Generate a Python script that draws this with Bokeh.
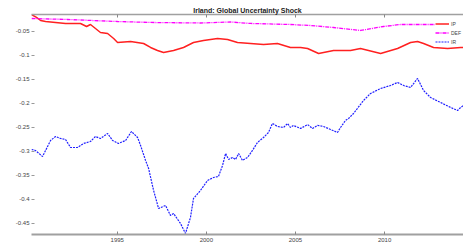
from bokeh.plotting import figure
from bokeh.models import Range1d, FixedTicker, Legend, LegendItem, CustomJSTickFormatter, LinearAxis
from bokeh.embed import file_html
from bokeh.resources import INLINE

title_text = "Irland: Global Uncertainty Shock"
x_ticks = [1995, 2000, 2005, 2010]
y_ticks = [-0.45, -0.4, -0.35, -0.3, -0.25, -0.2, -0.15, -0.1, -0.05]
x_lo, x_hi = 1990.19, 2014.43
y_lo, y_hi = -0.473, -0.0146

ip_t = [1990.19, 1990.47, 1990.70, 1990.98, 1991.54, 1992.10, 1992.94, 1993.28, 1993.50, 1994.06,
        1994.46, 1994.80, 1995.02, 1995.75, 1996.48, 1996.87, 1997.26, 1997.60, 1998.16, 1998.72,
        1999.28, 1999.84, 2000.63, 2001.19, 2001.75, 2002.48, 2003.21, 2003.99, 2004.72, 2005.29,
        2005.68, 2006.30, 2007.14, 2008.09, 2008.65, 2009.78, 2010.73, 2011.46, 2011.85, 2012.19,
        2012.75, 2013.54, 2014.27, 2014.43]
ip_v = [-0.0146, -0.0208, -0.0271, -0.0292, -0.0312, -0.0333, -0.0333, -0.0396, -0.0354, -0.0521,
        -0.0542, -0.0646, -0.0729, -0.0708, -0.0750, -0.0833, -0.0896, -0.0938, -0.0896, -0.0833,
        -0.0729, -0.0688, -0.0646, -0.0667, -0.0729, -0.0750, -0.0771, -0.0750, -0.0833, -0.0833,
        -0.0854, -0.0958, -0.0896, -0.0896, -0.0854, -0.0958, -0.0854, -0.0729, -0.0708, -0.0750,
        -0.0833, -0.0854, -0.0833, -0.0833]

def_t = [1990.19, 1992.21, 1995.02, 1996.87, 1999.67, 2001.36, 2002.48, 2004.72, 2005.85, 2007.14,
         2008.65, 2009.94, 2010.90, 2012.75, 2014.43]
def_v = [-0.0229, -0.0250, -0.0292, -0.0312, -0.0323, -0.0302, -0.0333, -0.0354, -0.0375, -0.0417,
         -0.0479, -0.0396, -0.0354, -0.0354, -0.0354]

ir_t = [1990.19, 1990.41, 1990.81, 1990.98, 1991.26, 1991.54, 1991.82, 1992.10, 1992.38, 1992.77,
        1993.11, 1993.50, 1993.78, 1994.06, 1994.46, 1994.74, 1995.07, 1995.47, 1995.80, 1996.14,
        1996.31, 1996.59, 1996.76, 1997.04, 1997.15, 1997.32, 1997.71, 1997.99, 1998.16, 1998.55,
        1998.83, 1999.11, 1999.28, 1999.67, 2000.07, 2000.40, 2000.68, 2000.91, 2001.08, 2001.25,
        2001.47, 2001.64, 2001.81, 2002.03, 2002.31, 2002.59, 2002.87, 2003.21, 2003.49, 2003.71,
        2003.99, 2004.33, 2004.56, 2004.72, 2004.89, 2005.29, 2005.68, 2005.96, 2006.24, 2006.58,
        2006.97, 2007.36, 2007.53, 2007.81, 2007.98, 2008.26, 2008.82, 2009.21, 2009.78, 2010.34,
        2010.73, 2011.07, 2011.46, 2011.85, 2012.19, 2012.58, 2013.14, 2013.71, 2014.10, 2014.27,
        2014.43]
ir_v = [-0.2958, -0.2979, -0.3104, -0.2979, -0.2771, -0.2688, -0.2729, -0.2750, -0.2917, -0.2917,
        -0.2833, -0.2792, -0.2688, -0.2729, -0.2625, -0.2771, -0.2833, -0.2771, -0.2583, -0.2708,
        -0.2875, -0.3187, -0.3354, -0.3812, -0.3958, -0.4188, -0.4125, -0.4333, -0.4292, -0.4500,
        -0.4708, -0.4375, -0.3979, -0.3812, -0.3604, -0.3542, -0.3521, -0.3292, -0.3042, -0.3167,
        -0.3125, -0.3167, -0.3042, -0.3187, -0.3125, -0.2979, -0.2812, -0.2708, -0.2604, -0.2417,
        -0.2479, -0.2500, -0.2417, -0.2500, -0.2458, -0.2521, -0.2438, -0.2521, -0.2458, -0.2479,
        -0.2542, -0.2604, -0.2500, -0.2354, -0.2312, -0.2208, -0.1938, -0.1792, -0.1688, -0.1625,
        -0.1562, -0.1625, -0.1667, -0.1479, -0.1729, -0.1875, -0.1979, -0.2083, -0.2146, -0.2083,
        -0.2042]

FONT = "Liberation Sans"
AX = "#a0a0a0"

p = figure(width=463, height=248, output_backend="svg", toolbar_location=None,
           x_range=Range1d(x_lo, x_hi), y_range=Range1d(y_lo, y_hi),
           min_border_left=31, min_border_right=0, min_border_top=14, min_border_bottom=14,
           background_fill_color="white", border_fill_color="white")
p.outline_line_color = None
p.xgrid.visible = False
p.ygrid.visible = False

p.title.text = title_text
p.title.align = "center"
p.title.text_font = FONT
p.title.text_font_size = "7px"
p.title.text_font_style = "bold"
p.title.text_color = "#222222"
p.title.standoff = 1

xa = p.xaxis[0]
xa.ticker = FixedTicker(ticks=x_ticks)
xa.axis_line_color = AX
xa.axis_line_width = 2
xa.major_tick_in = 3
xa.major_tick_out = 0
xa.minor_tick_line_color = None
xa.major_tick_line_color = "#888888"
xa.major_label_text_font = FONT
xa.major_label_text_font_size = "6px"
xa.major_label_text_color = "#444444"
xa.major_label_standoff = 3

ya = p.yaxis[0]
ya.ticker = FixedTicker(ticks=y_ticks)
ya.formatter = CustomJSTickFormatter(code="return String(Math.round(tick*100)/100);")
ya.axis_line_color = None
ya.major_tick_in = 3
ya.major_tick_out = 0
ya.minor_tick_line_color = None
ya.major_tick_line_color = "#999999"
ya.major_label_text_font = FONT
ya.major_label_text_font_size = "6px"
ya.major_label_text_color = "#444444"
ya.major_label_standoff = 2

# top box edge: axis line with inward ticks and no labels
top = LinearAxis(ticker=FixedTicker(ticks=x_ticks),
                 formatter=CustomJSTickFormatter(code="return '';"))
top.axis_line_color = AX
top.axis_line_width = 1.5
top.major_tick_in = 3
top.major_tick_out = 0
top.minor_tick_line_color = None
top.major_tick_line_color = "#888888"
top.major_label_text_font_size = "6px"
top.major_label_standoff = 0
p.add_layout(top, "above")

r_ip = p.line(ip_t, ip_v, line_color="#ff2020", line_width=1.5)
r_def = p.line(def_t, def_v, line_color="#ff00ff", line_width=1.3, line_dash="4 1 1 1")
r_ir = p.line(ir_t, ir_v, line_color="#2020ff", line_width=1.2, line_dash="2 1")

legend = Legend(items=[LegendItem(label="IP", renderers=[r_ip]),
                       LegendItem(label="DEF", renderers=[r_def]),
                       LegendItem(label="IR", renderers=[r_ir])],
                location=(404, 189))
legend.label_text_font = FONT
legend.label_text_font_size = "5px"
legend.label_height = 7
legend.glyph_height = 7
legend.glyph_width = 14
legend.spacing = 2
legend.padding = 3
legend.margin = 0
legend.label_standoff = 2
legend.border_line_color = None
legend.background_fill_color = "white"
legend.background_fill_alpha = 1
p.add_layout(legend)

open("out.html", "w").write(file_html(p, INLINE))
